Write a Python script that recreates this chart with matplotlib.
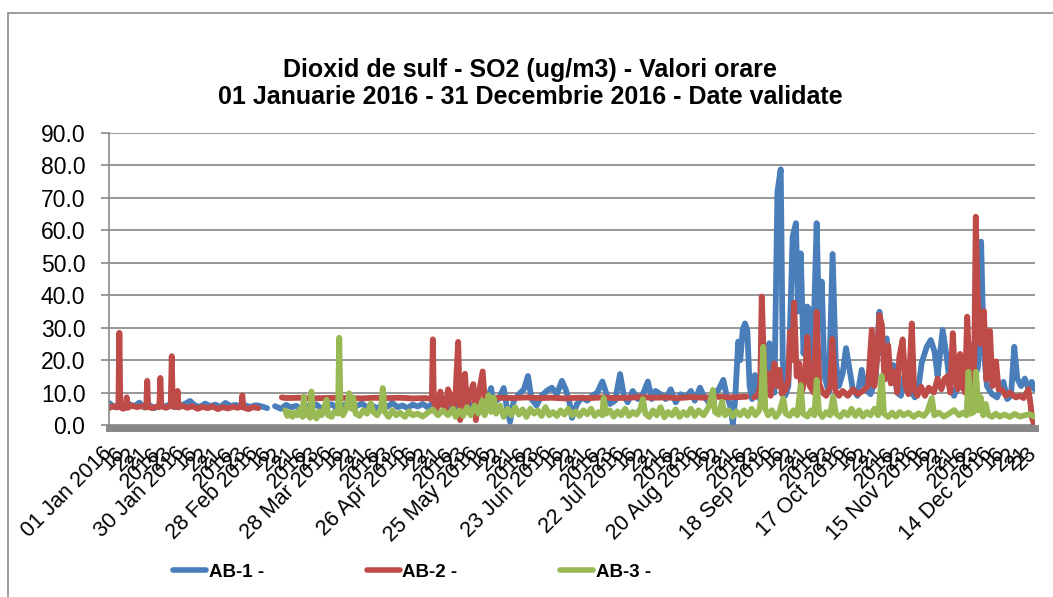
import numpy as np
import matplotlib
matplotlib.use("Agg")
from matplotlib import pyplot as plt
from matplotlib.patches import Rectangle

nan = float("nan")

"""
Date (zi din an, 0 = 01 Jan 2016 00:00 ; valoare ug/m3), citite de pe grafic
"""
ab1 = [(0, 6.8), (2, 5.6), (4, 6.2), (6, 5.5), (8, 6.4), (10, 5.8), (12, 6.9), (14, 5.4),
       (16, 6.1), (18, 5.2), (20, 6.0), (22, 5.7), (24, 6.3), (26, 5.5), (28, 5.9), (30, 6.5),
       (32, 7.4), (34, 6.0), (36, 5.6), (38, 6.6), (40, 5.8), (42, 6.3), (44, 5.5), (46, 6.8),
       (48, 5.9), (50, 6.2), (52, 5.7), (54, 6.0), (56, 5.6), (58, 6.1), (60, 5.8), (62.5, 5.2),
       (64, nan),
       (65.6, 5.8), (68, 5.0), (70, 6.2), (72, 5.4), (74, 5.9), (76, 4.8), (78, 6.0), (80, 5.5),
       (82, 6.3), (84, 5.0), (86, 5.7), (88, 6.4), (90, 5.2), (92, 5.8), (94, 6.5), (96, 5.3),
       (98, 5.9), (100, 6.6), (102, 5.4), (104, 6.0), (106, 5.1), (108, 6.2), (110, 5.6),
       (112, 6.8), (114, 5.5), (116, 6.0), (118, 5.2), (120, 6.3), (122, 5.7), (124, 6.5),
       (126, 5.4), (128, 6.8), (130, 6.0), (132, 7.2), (134, 5.5), (136, 6.5), (138, 4.8),
       (140, 7.0), (142, 5.8), (144, 6.6), (146, 5.2), (148, 6.0),
       (150, 8.5), (151, 11.4), (152, 7.0), (154, 8.0), (156, 11.4), (157, 6.5), (158.5, 1.0),
       (160, 7.5), (162, 9.5), (164, 11.0), (165.6, 15.1), (167, 8.0), (169, 6.0), (171, 9.0),
       (173, 10.5), (175, 11.5), (177, 9.5), (179, 13.6), (180.5, 11.0), (182, 7.0), (183, 2.2),
       (185, 6.5), (187, 8.5), (189, 7.5), (191, 9.0), (193, 10.0), (195, 13.4), (196.5, 10.0),
       (198, 6.5), (200, 7.5), (202, 15.7), (203.5, 9.0), (205, 7.0), (207, 10.5), (209, 8.0),
       (211, 9.5), (213, 13.4), (214.5, 8.0), (216, 10.5), (218, 9.5), (220, 8.0), (222, 11.0),
       (224, 7.0), (226, 9.5), (228, 8.5), (230, 10.5), (231.5, 7.5), (233.6, 11.5), (235, 9.0),
       (237, 7.0), (239, 9.5), (241, 11.0), (242.8, 13.9), (244, 9.5), (245.5, 6.0),
       (246.6, 0.3), (247.5, 8.0), (248.7, 25.7), (249.5, 20.0), (250.5, 29.5), (251.4, 31.3),
       (252.3, 29.0), (253.2, 12.0), (254.2, 8.0), (255.3, 15.4), (256.5, 9.0), (258, 7.0),
       (259.5, 10.0), (261, 25.2), (262, 12.0), (263, 10.0), (264.2, 71.9), (265.5, 78.8),
       (266.3, 20.3), (267.3, 9.0), (268.5, 12.0), (270.2, 58.0), (271.5, 62.2), (272.3, 35.0),
       (273.4, 52.9), (274.5, 22.0), (276, 36.5), (277, 35.5), (278, 14.0), (279.7, 62.2),
       (280.7, 30.0), (281.7, 44.2), (282.8, 15.0), (284.5, 10.0), (286, 52.7), (287.2, 20.0),
       (288.5, 12.0), (290, 16.0), (291.3, 23.7), (292.5, 18.0), (294, 11.0), (295.8, 9.0),
       (297.5, 17.0), (299, 11.0), (301, 9.5), (303, 14.0), (304.5, 34.9), (305.5, 22.0),
       (307.4, 26.7), (308.5, 14.0), (310, 18.5), (311.5, 10.0), (313, 9.0), (315, 18.0),
       (316.5, 11.0), (318.5, 8.5), (320, 12.0), (321.2, 19.1), (323.2, 24.1), (324.8, 26.2),
       (326.3, 22.6), (327.5, 15.0), (329.5, 29.3), (331, 21.5), (332.5, 12.0), (334, 9.0),
       (336, 13.0), (338, 11.0), (341, 24.6), (342, 14.0), (343.5, 18.0), (344.7, 56.5),
       (345.7, 23.6), (347, 12.0), (349, 9.5), (351, 8.5), (353.5, 13.3), (355, 8.0),
       (356.5, 9.0), (357.8, 24.1), (359, 14.3), (360.5, 12.0), (362, 14.3), (363.5, 11.0),
       (364.7, 13.3), (365.8, 11.0)]

ab2 = [(0, 5.2), (1.5, 5.8), (3, 5.4), (3.7, 5.6), (4.1, 28.4), (4.5, 5.5), (5.5, 5.0),
       (6.6, 5.4), (7.0, 8.5), (7.4, 5.3), (9, 6.0), (11, 5.5), (13, 5.8), (14.7, 5.4),
       (15.1, 13.6), (15.5, 5.6), (17, 5.2), (19, 5.7), (19.9, 5.5), (20.3, 14.5), (20.7, 5.8),
       (22.5, 5.3), (24.4, 5.9), (24.8, 21.2), (25.2, 5.6), (26.7, 5.8), (27.1, 10.5),
       (27.5, 5.4), (29, 5.9), (31, 5.3), (33, 5.8), (35, 5.0), (37, 5.6), (39, 5.2), (41, 5.7),
       (43, 4.9), (45, 5.5), (47, 5.1), (49, 5.6), (51, 5.3), (52.3, 5.8), (52.7, 9.1),
       (53.1, 5.4), (55, 4.9), (57, 5.5), (59, 5.2),
       (63, nan),
       (68.3, 8.5), (70, 8.3), (75, 8.4), (80, 8.2), (85, 8.3), (90, 8.4), (95, 8.3), (100, 8.2),
       (105, 8.4), (110, 8.3), (115, 8.4), (120, 8.2), (125, 8.3), (127.6, 8.0), (128, 26.4),
       (128.4, 7.0), (129.5, 5.0), (131, 10.3), (132, 6.0), (133, 4.0), (134, 11.0), (135, 9.0),
       (136, 5.5), (137, 10.0), (138, 25.6), (138.8, 1.5), (139.5, 8.0), (140.7, 15.8),
       (141.5, 6.0), (142.5, 9.0), (144, 12.6), (145, 1.5), (146, 9.0), (147.7, 16.5),
       (148.5, 8.0), (150, 8.3), (155, 8.4), (160, 8.3), (165, 8.5), (170, 8.3), (175, 8.4),
       (180, 8.2), (185, 8.4), (190, 8.3), (195, 8.5), (200, 8.3), (205, 8.4), (210, 8.6),
       (215, 8.4), (220, 8.5), (225, 8.3), (230, 8.6), (235, 8.4), (240, 8.7), (245, 8.5),
       (248, 8.6), (252, 8.7),
       (253.5, nan),
       (255, 8.5), (256.5, 9.5), (257.4, 12.0), (258, 39.6), (258.6, 25.2), (259.5, 10.0),
       (260.5, 15.9), (261.5, 9.0), (263, 19.0), (264, 12.0), (265, 17.0), (266, 9.5),
       (267.5, 11.0), (268.5, 14.0), (269.2, 28.8), (270, 20.0), (270.8, 37.7), (271.8, 15.0),
       (272.8, 19.0), (273.8, 10.0), (275, 14.0), (276, 27.2), (277, 12.0), (278.5, 10.0),
       (279.7, 34.9), (280.7, 12.8), (282, 10.0), (283.5, 9.0), (285, 12.0), (285.9, 26.5),
       (287, 10.8), (288.5, 9.0), (290, 10.5), (292, 9.0), (294, 11.0), (296, 9.5), (298, 10.5),
       (300, 12.0), (301.5, 29.3), (302.5, 12.0), (303.5, 20.0), (304.5, 33.9), (305.5, 30.8),
       (306.5, 14.0), (308, 24.5), (309, 12.8), (310.7, 16.5), (311.5, 10.0), (312.4, 21.1),
       (313.7, 26.4), (314.8, 12.0), (316, 9.5), (317.3, 31.3), (318.2, 11.0), (319.5, 9.0),
       (321, 11.8), (322.5, 9.0), (324, 11.5), (326, 10.0), (327.5, 14.3), (329, 11.0),
       (330.3, 14.3), (331.4, 15.0), (332.5, 10.0), (333.5, 28.3), (334.5, 14.0), (335.5, 11.0),
       (336.4, 21.9), (337.5, 12.0), (338.3, 10.0), (339.2, 33.4), (340.2, 15.0), (341.3, 9.0),
       (342, 20.0), (342.6, 64.2), (343.3, 40.7), (344.3, 25.0), (345.8, 35.1), (346.8, 14.0),
       (348.2, 29.0), (349.2, 12.0), (350.6, 19.6), (351.6, 11.0), (353, 10.8), (354.5, 9.0),
       (356, 10.0), (357.2, 9.2), (358.5, 8.5), (360, 9.0), (361.5, 8.3), (363.4, 11.0),
       (364.3, 6.0), (364.7, 2.6), (365.5, 0.5)]

ab3 = [(69.6, 4.5), (70.5, 2.8), (71.5, 4.0), (72.5, 2.5), (73.5, 3.8), (74.5, 3.0), (75.5, 5.0),
       (76.5, 2.5), (77, 8.8), (77.5, 3.0), (78.5, 4.5), (79.5, 2.2), (80, 10.3), (80.6, 3.5),
       (82, 2.0), (83, 4.2), (84, 3.0), (85, 5.2), (86, 7.8), (86.6, 3.0), (88, 2.5), (89, 4.0),
       (90.5, 3.5), (91, 26.9), (91.5, 4.5), (92.5, 3.0), (94, 5.5), (94.9, 9.8), (95.8, 5.0),
       (96.5, 8.5), (97.5, 3.5), (99, 2.8), (100.5, 4.5), (102, 3.5), (103.5, 6.7), (104.5, 4.0),
       (106, 3.0), (107.5, 5.0), (108.2, 11.4), (109, 4.0), (110.5, 2.5), (112, 4.5), (113.5, 3.0),
       (115, 3.8), (117, 2.5), (118.5, 4.2), (120, 3.0), (122, 3.5), (124, 2.6), (126, 3.8),
       (128, 4.8), (130, 3.0), (132, 4.5), (134, 3.0), (136, 5.0), (137, 2.5), (138.5, 4.5),
       (140, 2.8), (141.5, 5.5), (143, 3.0), (144.5, 6.0), (146, 3.5), (147.5, 7.5), (148.5, 3.0),
       (150, 9.2), (151, 4.0), (152, 8.5), (153, 3.5), (154.5, 6.0), (156, 2.5), (157.5, 5.0),
       (159, 3.0), (160.5, 5.5), (162, 3.2), (163.5, 4.8), (165, 2.5), (166.5, 5.0), (168, 3.5),
       (169.5, 4.5), (171, 2.8), (172.5, 5.5), (174, 3.0), (175.5, 4.0), (177, 2.8), (178.5, 4.5),
       (180, 3.2), (181.5, 5.0), (183, 3.0), (184.5, 4.2), (186, 2.8), (187.5, 4.5), (189, 3.3),
       (190.5, 5.0), (192, 2.8), (193.5, 4.0), (195, 3.0), (195.5, 8.3), (196.5, 3.5), (198, 4.5),
       (199.5, 2.6), (201, 4.2), (202.5, 3.0), (204, 5.0), (205.5, 2.8), (207, 4.0), (208.5, 3.2),
       (210, 5.0), (211, 8.0), (212, 3.5), (213.5, 2.5), (215, 4.5), (216.5, 3.0), (218, 5.5),
       (219.5, 2.4), (221, 4.0), (222.5, 3.0), (224, 4.8), (225.5, 2.5), (227, 4.0), (228.5, 3.0),
       (230, 5.0), (231.5, 2.8), (233, 4.5), (235, 3.0), (237, 5.5), (238.7, 10.8), (239.5, 4.0),
       (241, 3.2), (242.3, 7.2), (243.5, 3.0), (245, 4.5), (246.5, 2.6), (248, 4.2), (249.5, 3.0),
       (251, 4.5), (252.5, 2.8), (254, 5.0), (255.5, 3.0), (257, 4.5), (257.8, 8.0), (258.6, 24.1),
       (259.4, 5.0), (260.5, 3.0), (262, 4.5), (263.5, 2.5), (265, 4.0), (266.5, 8.2), (267.5, 3.5),
       (269, 2.8), (270.5, 4.5), (272, 3.0), (273.4, 12.3), (274.3, 3.5), (276, 2.6), (277.5, 4.5),
       (278.8, 3.0), (279.7, 13.9), (280.6, 4.0), (282, 2.5), (283.5, 4.0), (285, 3.0),
       (286.2, 8.7), (287.3, 3.5), (289, 2.5), (290.5, 4.0), (292, 3.0), (293.5, 5.0), (295, 2.8),
       (296.5, 4.5), (298, 2.6), (299.5, 4.0), (301, 3.0), (302.5, 5.0), (304, 3.0), (305.4, 15.1),
       (306.3, 3.5), (308, 2.5), (309.5, 3.8), (311, 2.6), (312.5, 4.0), (314, 3.0), (316, 3.8),
       (318, 2.5), (320, 3.6), (322, 2.8), (323.5, 4.2), (325.2, 8.3), (326.2, 3.0), (328, 3.8),
       (330, 2.6), (332, 3.5), (334, 4.6), (336, 3.0), (337.5, 3.8), (339, 3.0), (339.7, 16.4),
       (340.6, 3.5), (341.8, 4.0), (342.7, 16.4), (343.6, 4.5), (344.5, 8.6), (345.5, 3.0),
       (346.5, 6.5), (347.5, 3.2), (349, 2.5), (350.5, 3.5), (352, 2.6), (354, 3.2), (356, 2.5),
       (358, 3.4), (360, 2.6), (362, 3.0), (364, 3.3), (365.8, 2.5)]

series_names = ["AB-1 -", "AB-2 -", "AB-3 -"]
series_colors = ["#4a7ebb", "#be4b48", "#98b954"]

tick_main = ["01 Jan 2016", "30 Jan 2016", "28 Feb 2016", "28 Mar 2016", "26 Apr 2016",
             "25 May 2016", "23 Jun 2016", "22 Jul 2016", "20 Aug 2016", "18 Sep 2016",
             "17 Oct 2016", "15 Nov 2016", "14 Dec 2016"]
tick_fill = ["16", "22", "21", "2016", "23"]
tick_last = "23"

title_1 = "Dioxid de sulf - SO2 (ug/m3) - Valori orare"
title_2 = "01 Januarie 2016 - 31 Decembrie 2016 - Date validate"

plt.rcParams["font.family"] = ["Liberation Sans", "DejaVu Sans"]

W, H = 1053, 597
fig = plt.figure(figsize=(W / 100, H / 100), dpi=100)
ax = fig.add_axes([109 / W, 1 - 425 / H, (1035 - 109) / W, (425 - 133) / H])

# chenar grafic
fig.patches.append(Rectangle((8 / W, -0.02), 1.1, 1 - 13 / H + 0.02, transform=fig.transFigure,
                             fill=False, edgecolor="#8a8a8a", linewidth=1.2))

# axe (pozitia spinei inainte de ticks, altfel se reseteaza etichetele)
for s in ["top", "right"]:
    ax.spines[s].set_visible(False)
ax.spines["left"].set_color("#8a8a8a")
ax.spines["left"].set_linewidth(1.2)
ax.spines["bottom"].set_color("#878787")
ax.spines["bottom"].set_linewidth(5)
ax.spines["bottom"].set_position(("outward", 2.5))

for data, name, col in zip([ab1, ab2, ab3], series_names, series_colors):
    x = [d for d, v in data]
    y = [v for d, v in data]
    ax.plot(x, y, color=col, lw=4.2, label=name, solid_capstyle="round", solid_joinstyle="round")

ax.set_xlim(0, 366)
ax.set_ylim(0, 90)
ax.set_yticks(np.arange(0, 91, 10))
ax.set_yticklabels([f"{v:.1f}" for v in np.arange(0, 91, 10)], fontsize=16.5)
ax.tick_params(axis="y", length=6, width=1.2, color="#8a8a8a", pad=11)
ax.grid(axis="y", color="#8f8f8f", lw=1.3)
ax.set_axisbelow(True)

ticks, labels = [], []
for i, lab in enumerate(tick_main):
    ticks.append(i * 29)
    labels.append(lab)
    for j, f in enumerate(tick_fill):
        pos = i * 29 + (j + 1) * 29 / 6
        if pos < 366:
            ticks.append(pos)
            labels.append(f)
ticks.append(365.6)
labels.append(tick_last)
ax.set_xticks(ticks)
ax.set_xticklabels(labels, fontsize=15.5, rotation=45, ha="right", va="center",
                   rotation_mode="anchor")
ax.tick_params(axis="x", length=0, pad=16)

fig.text(530 / W, 1 - 70 / H, title_1, ha="center", va="center", fontsize=18, fontweight="bold")
fig.text(530 / W, 1 - 97 / H, title_2, ha="center", va="center", fontsize=18, fontweight="bold")

leg = fig.legend(loc="center", bbox_to_anchor=(412 / W, 1 - 572 / H), ncol=3, frameon=False,
                 prop={"weight": "bold", "size": 13.5},
                 handlelength=1.76, handletextpad=0.12, columnspacing=5.5)
for line in leg.get_lines():
    line.set_linewidth(4)
    line.set_solid_capstyle("round")

fig.savefig("out.png", dpi=100)
